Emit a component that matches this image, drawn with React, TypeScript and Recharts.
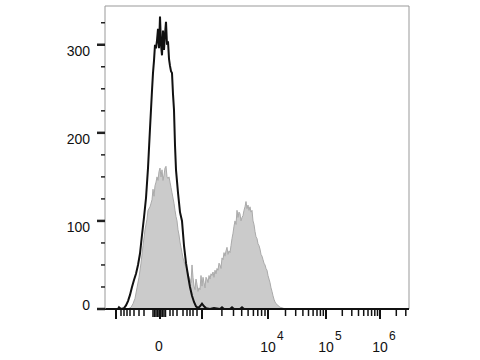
import React from "react";
import {
  ComposedChart,
  Area,
  Line,
  XAxis,
  YAxis,
  ReferenceLine,
} from "recharts";

// x is in display channels of the biexponential axis (0 = left edge, 304 = right edge)
const blackX = [
  0, 13, 14, 16, 19, 21, 23, 25, 27, 29, 31, 33, 35, 37, 39, 41, 43, 45, 47,
  48, 49, 50, 51, 52, 53, 54, 55, 56, 57, 58, 59, 60, 61, 62, 63, 64, 65, 66,
  67, 68, 69, 70, 71, 73, 75, 77, 79, 81, 83, 85, 87, 89, 91, 93, 95, 97, 99,
  101, 105, 109, 115, 117, 119, 125, 127, 129, 135, 137, 139, 155, 304,
];
const blackCount = [
  0, 0, 2, 0, 1, 4, 9, 16, 25, 33, 40, 50, 63, 84, 104, 126, 160, 205, 248,
  268, 282, 300, 296, 305, 318, 296, 332, 300, 288, 316, 294, 312, 326, 300,
  304, 284, 276, 270, 268, 244, 226, 186, 158, 132, 110, 100, 72, 52, 38, 25,
  15, 8, 3, 1, 3, 6, 3, 1, 0, 1, 0, 2, 0, 0, 2, 0, 0, 2, 0, 0, 0,
];

const grayX = [
  0, 23, 26, 28, 30, 32, 34, 36, 38, 40, 42, 43, 45, 46, 47, 48, 49, 50, 51,
  52, 53, 54, 55, 56, 57, 58, 59, 60, 61, 62, 63, 64, 65, 66, 67, 68, 69, 70,
  71, 72, 73, 74, 75, 76, 77, 78, 79, 80, 81, 82, 83, 84, 85, 86, 87, 88, 89,
  90, 91, 92, 93, 94, 95, 96, 97, 98, 99, 100, 101, 102, 103, 104, 105, 106,
  107, 108, 109, 110, 111, 112, 113, 114, 115, 116, 117, 118, 119, 120, 121,
  122, 123, 124, 125, 126, 127, 128, 129, 130, 131, 132, 133, 134, 135, 136,
  137, 138, 139, 140, 141, 142, 143, 144, 145, 146, 147, 148, 149, 150, 151,
  152, 153, 154, 155, 156, 157, 158, 159, 160, 161, 162, 163, 164, 165, 166,
  167, 168, 169, 170, 171, 172, 173, 175, 178, 180, 304,
];
const grayCount = [
  0, 0, 2, 6, 12, 24, 36, 52, 72, 90, 102, 112, 116, 120, 124, 136, 128, 140,
  144, 150, 146, 156, 160, 150, 158, 146, 152, 160, 162, 150, 148, 150, 144,
  138, 132, 126, 120, 112, 105, 100, 90, 84, 76, 70, 64, 58, 54, 50, 48, 44,
  40, 36, 34, 30, 50, 36, 26, 22, 34, 28, 20, 24, 22, 38, 26, 36, 30, 24, 36,
  34, 30, 38, 34, 40, 38, 42, 36, 44, 40, 46, 44, 52, 50, 46, 58, 56, 64, 60,
  66, 70, 62, 66, 64, 72, 80, 86, 94, 100, 96, 112, 104, 110, 108, 100, 104,
  106, 112, 116, 122, 114, 118, 112, 116, 110, 112, 100, 96, 88, 82, 80, 74,
  72, 68, 62, 60, 56, 52, 50, 46, 44, 38, 34, 30, 24, 20, 15, 11, 8, 6, 5, 4,
  2, 1, 0, 0,
];

const blackData = blackX.map((x, i) => ({ x, count: blackCount[i] }));
const grayData = grayX.map((x, i) => ({ x, count: grayCount[i] }));

// axis: decade positions in display channels
const decadeExp = [3, 4, 5, 6];
const decadePos = [97, 163, 221, 275, 329];
const labelledTicks: Record<number, string> = { 55: "0", 163: "4", 221: "5", 275: "6" };
const majorTicks = [11, 55, 97, 163, 221, 275];
const linearMinor = [
  16, 19, 22, 25, 29, 34, 39, 48, 49.5, 51, 52.5, 54, 56, 57.5, 59, 60.5, 65,
  68, 72, 78, 82, 85, 88, 92,
];
const logMinor: number[] = [];
decadeExp.forEach((_, d) => {
  for (let k = 2; k <= 9; k++) {
    const p = decadePos[d] + Math.log10(k) * (decadePos[d + 1] - decadePos[d]);
    if (p < 304) logMinor.push(Math.round(p * 10) / 10);
  }
});
const xTicks = [...majorTicks, ...linearMinor, ...logMinor].sort((a, b) => a - b);

const yTicks = [0, 25, 50, 75, 100, 125, 150, 175, 200, 225, 250, 275, 300, 325];

const FONT = "Arial, 'Liberation Sans', sans-serif";

function XTick({ x, y, payload }: any) {
  const v = payload.value;
  const major = majorTicks.includes(v);
  const cluster = v >= 48 && v <= 61;
  const len = major ? 10 : cluster ? 8 : 7;
  const label = labelledTicks[v];
  return (
    <g>
      <line x1={x} x2={x} y1={y} y2={y + len} stroke="#111" strokeWidth={major ? 2 : 1.5} />
      {label === "0" && (
        <text x={x - 1} y={y + 42} textAnchor="middle" fontSize={14} fontFamily={FONT} fill="#111">
          0
        </text>
      )}
      {label && label !== "0" && (
        <g fontFamily={FONT} fill="#111">
          <text x={x} y={y + 43} textAnchor="middle" fontSize={14}>
            10
          </text>
          <text x={x + 9} y={y + 31} fontSize={12}>
            {label}
          </text>
        </g>
      )}
    </g>
  );
}

function YTick({ x, y, payload }: any) {
  const v = payload.value;
  const major = v % 100 === 0;
  return (
    <g>
      <line
        x1={x - (major ? 8 : 4)}
        x2={x}
        y1={y}
        y2={y}
        stroke="#222"
        strokeWidth={major ? 2.5 : 1.5}
      />
      {major && (
        <text
          x={x - 15}
          y={v === 0 ? y + 1 : y + 11}
          textAnchor="end"
          fontSize={14}
          fontFamily={FONT}
          fill="#111"
        >
          {v}
        </text>
      )}
    </g>
  );
}

export default function App() {
  return (
    <div style={{ position: "absolute", left: 0, top: 0, background: "#fff" }}>
      <ComposedChart
        width={480}
        height={360}
        margin={{ top: 6, right: 71, bottom: 11, left: 45 }}
      >
        <XAxis
          type="number"
          dataKey="x"
          domain={[0, 304]}
          ticks={xTicks}
          interval={0}
          tickSize={0}
          tickMargin={0}
          tick={<XTick />}
          height={40}
          axisLine={false}
          allowDataOverflow
        />
        <YAxis
          type="number"
          domain={[0, 344]}
          ticks={yTicks}
          interval={0}
          tickSize={0}
          tickMargin={0}
          tick={<YTick />}
          width={60}
          axisLine={{ stroke: "#999", strokeWidth: 1 }}
          allowDataOverflow
        />
        <ReferenceLine y={344} stroke="#999" strokeWidth={1} />
        <ReferenceLine x={304} stroke="#999" strokeWidth={1} />
        <Area
          data={grayData}
          dataKey="count"
          type="linear"
          fill="#cbcbcb"
          fillOpacity={1}
          stroke="#aaaaaa"
          strokeWidth={1}
          isAnimationActive={false}
          baseValue={0}
        />
        <ReferenceLine y={0} stroke="#111" strokeWidth={2} />
        <Line
          data={blackData}
          dataKey="count"
          type="linear"
          stroke="#111"
          strokeWidth={2}
          dot={false}
          isAnimationActive={false}
        />
      </ComposedChart>
    </div>
  );
}
